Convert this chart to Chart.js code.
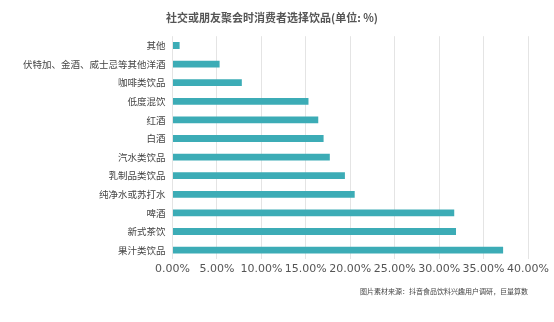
<!DOCTYPE html>
<html>
<head>
<meta charset="utf-8">
<script src="https://cdn.jsdelivr.net/npm/chart.js@4"></script>
<style>
  html, body { margin: 0; padding: 0; background: #ffffff; }
  #wrap { width: 554px; height: 322px; }
</style>
</head>
<body>
<div id="wrap"><canvas id="myChart"></canvas></div>
<script>
// Data block
const categories = [
  "其他",
  "伏特加、金酒、威士忌等其他洋酒",
  "咖啡类饮品",
  "低度混饮",
  "红酒",
  "白酒",
  "汽水类饮品",
  "乳制品类饮品",
  "纯净水或苏打水",
  "啤酒",
  "新式茶饮",
  "果汁类饮品",
];
const shares = [0.8, 5.3, 7.8, 15.3, 16.4, 17.0, 17.7, 19.4, 20.5, 31.7, 31.9, 37.2];
const xTicks = [0, 5, 10, 15, 20, 25, 30, 35, 40];

const titleText = "社交或朋友聚会时消费者选择饮品(单位: %)";
const sourceText = "图片素材来源：抖音食品饮料兴趣用户调研，巨量算数";

// Config Block
const config = {
  type: "bar",
  data: {
    labels: categories,
    datasets: [
      {
        data: shares,
        backgroundColor: "#3cacb6",
        borderWidth: 0,
        barPercentage: 0.8,
        categoryPercentage: 0.46,
      },
    ],
  },
  options: {
    indexAxis: "y",
    responsive: true,
    maintainAspectRatio: false,
    animation: false,
    layout: {
      padding: { top: 4, right: 26, left: 16, bottom: 26 },
    },
    plugins: {
      legend: { display: false },
      tooltip: { enabled: false },
      title: {
        display: true,
        text: titleText,
        color: "#555555",
        font: { size: 11, weight: "bold", family: "'Noto Sans CJK SC', sans-serif" },
        padding: { top: 7, bottom: 12 },
      },
      subtitle: {
        display: true,
        position: "bottom",
        align: "end",
        text: sourceText,
        color: "#444444",
        font: { size: 7, family: "'Noto Sans CJK SC', sans-serif" },
        padding: { top: 9, bottom: 0 },
      },
    },
    scales: {
      x: {
        min: 0,
        max: 40,
        afterBuildTicks: function (axis) {
          axis.ticks = xTicks.map((v) => ({ value: v }));
        },
        grid: {
          color: "#e4e4e4",
          lineWidth: 1,
          drawTicks: false,
        },
        border: { display: false },
        ticks: {
          color: "#555555",
          padding: 3,
          maxRotation: 0,
          minRotation: 0,
          autoSkip: false,
          font: { size: 11, family: "'DejaVu Sans', sans-serif" },
          callback: function (value) {
            return value.toFixed(2) + "%";
          },
        },
      },
      y: {
        grid: { display: false, drawTicks: false },
        border: { display: false },
        ticks: {
          color: "#444444",
          padding: 7,
          font: { size: 9.5, family: "'Noto Sans CJK SC', sans-serif" },
        },
      },
    },
  },
};

// Render Block
const myChart = new Chart(document.getElementById("myChart"), config);
</script>
</body>
</html>
